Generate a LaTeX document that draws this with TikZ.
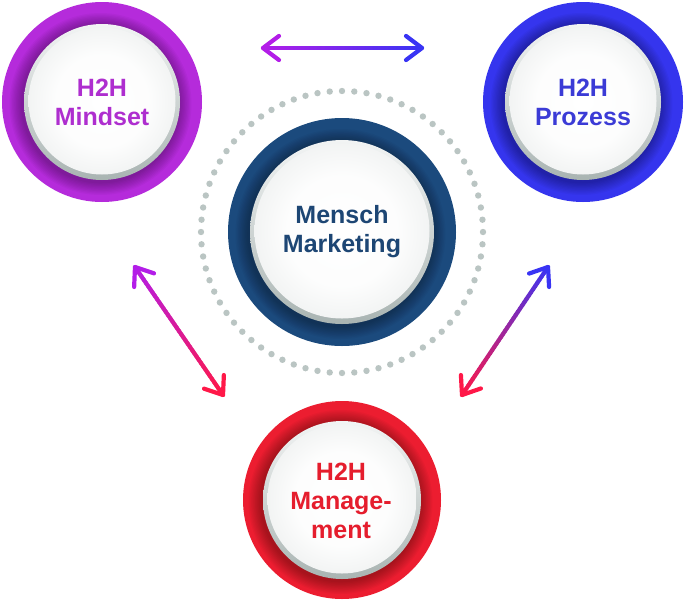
\documentclass[tikz,border=0pt]{standalone}
\usepackage{fontspec}
\setmainfont{Liberation Sans}
\usetikzlibrary{calc}
\definecolor{cPurple}{HTML}{B52BDB}
\definecolor{cBlue}{HTML}{3535EE}
\definecolor{cNavy}{HTML}{1B4A7D}
\definecolor{cRed}{HTML}{EC1D30}
\definecolor{tPurple}{HTML}{AE2ECF}
\definecolor{tBlue}{HTML}{3B3BD6}
\definecolor{tNavy}{HTML}{1D4674}
\definecolor{tRed}{HTML}{E51D2D}
\definecolor{aPurple}{HTML}{B31DE8}
\definecolor{aBlue}{HTML}{3934F4}
\definecolor{aRed}{HTML}{FF1848}
\definecolor{dotgray}{HTML}{BAC5C3}
\definecolor{discedge}{HTML}{D6DBDA}
\colorlet{discmid}{white!94!discedge}
\definecolor{rimtop}{HTML}{F2F4F4}
\definecolor{rimbot}{HTML}{A9B4B2}
\pgfdeclareradialshading{discshade}{\pgfpoint{0bp}{0bp}}{color(0bp)=(white); color(16bp)=(discmid); color(50bp)=(discedge)}

\newcommand{\ringdisc}[4]{%
  \fill[#4] (#1) circle (#2pt);
  \foreach \k in {1,...,10}{\fill[black,opacity=0.03] ($(#1)+(-1.5,2)$) circle ({(#3+\k*1.3)*1pt});}
  \shade[top color=rimtop, bottom color=rimbot] (#1) circle (#3pt);
  \shade[shading=discshade] ($(#1)+(0,-1)$) circle ({(#3-4.5)*1pt});
}
\newcommand{\gradarrow}[4]{%
  \foreach \i in {0,...,39}{%
    \pgfmathtruncatemacro\p{100*(\i+0.5)/40}%
    \draw[line width=4.2pt, line cap=round, color=#4!\p!#3] ($(#1)!{\i/40}!(#2)$) -- ($(#1)!{(\i+1)/40}!(#2)$);}
  \draw[line width=4.2pt, line cap=round, line join=round, color=#3] ($(#1)!20pt!37:(#2)$) -- (#1) -- ($(#1)!20pt!-37:(#2)$);
  \draw[line width=4.2pt, line cap=round, line join=round, color=#4] ($(#2)!20pt!37:(#1)$) -- (#2) -- ($(#2)!20pt!-37:(#1)$);
}

\begin{document}
\begin{tikzpicture}[x=1pt,y=-1pt,
  lbl/.style={align=center, font=\bfseries\fontsize{25}{29}\selectfont, inner sep=0pt}]
\useasboundingbox (0,0) rectangle (685,600);
\fill[white] (0,0) rectangle (685,600);

% centres
\coordinate (M) at (102,102);
\coordinate (P) at (583,102);
\coordinate (C) at (342,232);
\coordinate (G) at (342,500);

% dotted circle
\foreach \i in {0,...,71}{\fill[dotgray] ($(C)+(\i*5:141pt)$) circle (3.2pt);}

% circles
\ringdisc{M}{100}{78}{cPurple}
\ringdisc{P}{100}{78}{cBlue}
\ringdisc{C}{114}{92}{cNavy}
\ringdisc{G}{99}{79}{cRed}

% labels
\node[lbl, text=tPurple] (mindset) at (102,102) {H2H\\Mindset};
\node[lbl, text=tBlue] (prozess) at (583,102) {H2H\\Prozess};
\node[lbl, text=tNavy] (mensch) at (342,232) {Mensch\\Marketing};
\node[lbl, text=tRed] (manage) at (341,501) {H2H\\Manage-\\ment};

% arrow ends
\coordinate (t1) at (263,48);
\coordinate (t2) at (422,48);
\coordinate (l1) at (135,267);
\coordinate (l2) at (223,395);
\coordinate (r1) at (548,267);
\coordinate (r2) at (462,395);

\gradarrow{t1}{t2}{aPurple}{aBlue}
\gradarrow{l1}{l2}{aPurple}{aRed}
\gradarrow{r1}{r2}{aBlue}{aRed}
\end{tikzpicture}
\end{document}
